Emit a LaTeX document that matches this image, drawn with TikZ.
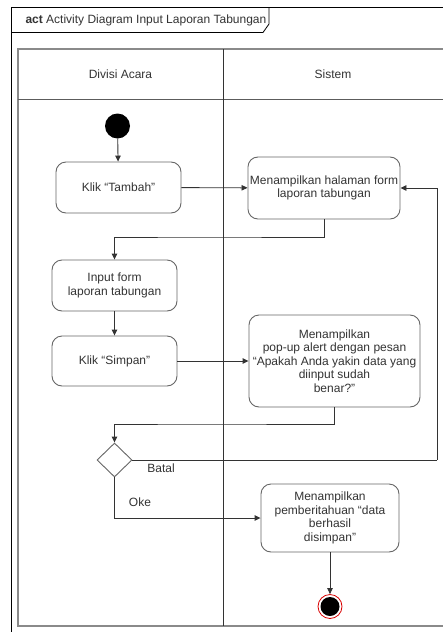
\documentclass[tikz,border=0pt]{standalone}
\usepackage{fontspec}
\setmainfont{Liberation Sans}
\usetikzlibrary{arrows.meta,shapes.geometric}
\definecolor{ink}{HTML}{333333}
\definecolor{edge}{HTML}{666666}
\definecolor{lane}{HTML}{8A8A8A}
\tikzset{
  txt/.style={text=ink,font=\fontsize{12}{13.5}\selectfont,align=center},
  act/.style={txt,draw=edge,line width=0.9pt,rounded corners=10pt,inner sep=2pt},
  arr/.style={draw=ink,line width=0.9pt,-{Triangle[length=6pt,width=5.5pt]}},
  flow/.style={draw=ink,line width=0.9pt},
}
\begin{document}
\begin{tikzpicture}[x=1pt,y=-1pt]
\useasboundingbox (0,0) rectangle (443,632);
\clip (0,0) rectangle (443,632);
\fill[white] (0,0) rectangle (443,632);

% outer UML frame with its name tab
\draw[black,line width=0.9pt] (11,650) -- (11,7) -- (460,7);
\draw[black,line width=0.8pt] (11,32.5) -- (263,32.5) -- (269,24) -- (269,7);
\node[anchor=west,txt] (title) at (22,20) {\textbf{act} Activity Diagram Input Laporan Tabungan};

% swimlanes
\draw[lane,line width=1.3pt] (470,49) -- (18,49) -- (18,626) -- (470,626);
\draw[ink!80,line width=0.9pt] (18,99) -- (470,99);
\draw[ink,line width=0.9pt] (223,49) -- (223,626);
\node[txt] (laneA) at (120.5,74) {Divisi Acara};
\node[txt] (laneB) at (333,74) {Sistem};

% nodes
\node[circle,fill=black,minimum size=25pt,inner sep=0pt] (start) at (117.5,126) {};
\node[act,minimum width=125pt,minimum height=51pt] (tambah) at (118.5,187.5) {Klik “Tambah”};
\node[act,minimum width=150pt,minimum height=62pt] (form) at (324,188) {Menampilkan halaman form\\laporan tabungan};
\node[act,minimum width=125pt,minimum height=51pt] (input) at (114.5,285.5) {Input form\\laporan tabungan};
\node[act,minimum width=125pt,minimum height=50pt] (simpan) at (114.5,361) {Klik “Simpan”};
\node[act,minimum width=171pt,minimum height=92pt] (popup) at (334.5,361) {Menampilkan\\pop-up alert dengan pesan\\“Apakah Anda yakin data yang\\diinput sudah\\benar?”};
\node[diamond,draw=edge,line width=0.9pt,minimum width=35pt,minimum height=34pt,inner sep=0pt] (dec) at (114.5,460) {};
\node[act,minimum width=138pt,minimum height=68pt] (done) at (330,518) {Menampilkan\\pemberitahuan “data\\berhasil\\disimpan”};
\node[circle,draw=red!85!black,fill=white,line width=0.8pt,minimum size=24pt,inner sep=0pt] (stop) at (330,606.5) {};
\node[circle,fill=black,minimum size=19pt,inner sep=0pt] (stopdot) at (stop.center) {};

% bend points
\coordinate (b1) at (200,237);
\coordinate (b2) at (200,424);
\coordinate (br) at (437,460);

% connectors
\draw[arr] (start) -- (tambah);
\draw[arr] (tambah) -- (form);
\draw[arr] (form.south) |- (b1) -| (input.north);
\draw[arr] (input) -- (simpan);
\draw[arr] (simpan) -- (popup);
\draw[arr] (popup.south) |- (b2) -| (dec.north);
\draw[flow] (dec.east) -- (br);
\draw[arr] (br) |- (form.east);
\draw[arr] (dec.south) |- (done.west);
\draw[arr] (done) -- (stop);

% guard labels
\node[txt] (batal) at (161,468) {Batal};
\node[txt] (oke) at (140,502) {Oke};
\end{tikzpicture}
\end{document}
